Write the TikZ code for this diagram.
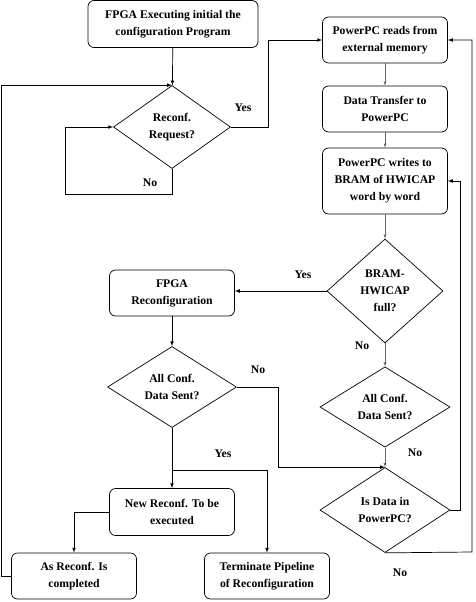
\documentclass[tikz,border=0pt]{standalone}
\usepackage{fontspec}
\setmainfont{Liberation Serif}
\usetikzlibrary{arrows,shapes.geometric}

\tikzset{
  box/.style={draw, rounded corners=6pt, align=center, minimum width=125pt, minimum height=46pt, inner sep=1pt},
  decision/.style={draw, diamond, align=center, inner sep=0pt},
  flow/.style={-latex, line width=0.7pt},
  thinflow/.style={-latex, line width=0.4pt, draw=black!60},
  lbl/.style={font=\bfseries\fontsize{11.7}{14}\selectfont}
}

\begin{document}
\begin{tikzpicture}[x=1pt,y=-1pt,line width=0.7pt,font=\bfseries\fontsize{11.7}{17}\selectfont]
\useasboundingbox (0,0) rectangle (476,602);
%\draw [help lines,step=50] (0,0) grid (476,602);
\node[box,minimum width=170pt,minimum height=47pt] (init) at (173,24) {FPGA Executing initial the\\configuration Program};
\node[decision,minimum width=117pt,minimum height=83pt] (request) at (172,127) {Reconf.\\Request?};
\node[box] (reads) at (385,40) {PowerPC reads from\\external memory};
\node[box] (transfer) at (385,109) {Data Transfer to\\PowerPC};
\node[box,minimum height=66pt] (writes) at (385,181) {PowerPC writes to\\BRAM of HWICAP\\word by word};
\node[decision,minimum width=116pt,minimum height=104pt] (bramfull) at (385,291) {BRAM-\\HWICAP\\full?};
\node[box] (fpgareconf) at (172,293) {FPGA\\Reconfiguration};
\node[decision,minimum width=129pt,minimum height=81pt] (sentL) at (172,387) {All Conf.\\Data Sent?};
\node[decision,minimum width=130pt,minimum height=80pt] (sentR) at (385,407) {All Conf.\\Data Sent?};
\node[decision,minimum width=130pt,minimum height=85pt] (indata) at (385,510) {Is Data in\\PowerPC?};
\node[box,minimum height=47pt] (newreconf) at (172,512) {New Reconf. To be\\executed};
\node[box] (asreconf) at (74,576) {As Reconf. Is\\completed};
\node[box] (terminate) at (267,576) {Terminate Pipeline\\of Reconfiguration};

% turning points
\coordinate (noloop) at (65,194);
\coordinate (yesturn) at (268,127);
\coordinate (noturn) at (278,387);
\coordinate (split) at (172,470);
\coordinate (backin) at (460,510);
\coordinate (backout) at (472,552);

\draw[flow] (init) -- (request);
\draw[flow] (asreconf.west) -- ++(-10,0) |- (request.north);
\draw[flow] (request.south) |- (noloop) |- (request.west);
\draw[flow] (request.east) -- (yesturn) |- (reads.west);
\draw[thinflow] (reads) -- (transfer);
\draw[thinflow] (transfer) -- (writes);
\draw[thinflow] (writes) -- (bramfull);
\draw[flow] (bramfull.west) -- (fpgareconf.east |- bramfull.west);
\draw[thinflow] (bramfull.south) -- (sentR.north);
\draw[thinflow] (sentR.south) -- (indata.north);
\draw[flow] (indata.east) -- (backin) |- (writes.east);
\draw[flow] (indata.south) -- (backout) |- (reads.east);
\draw[flow] (fpgareconf) -- (sentL);
\draw[flow] (sentL.east) -- (noturn) |- (indata.north);
\draw[flow] (sentL.south) -- (newreconf.north);
\draw[flow] (split) -| (terminate.north);
\draw[flow] (newreconf.west) -| (asreconf.north);

\node[lbl] at (243,108) {Yes};
\node[lbl] at (150,183) {No};
\node[lbl] at (303,275) {Yes};
\node[lbl] at (362,346) {No};
\node[lbl] at (258,370) {No};
\node[lbl] at (415,453) {No};
\node[lbl] at (223,454) {Yes};
\node[lbl] at (400,573) {No};
\end{tikzpicture}
\end{document}
